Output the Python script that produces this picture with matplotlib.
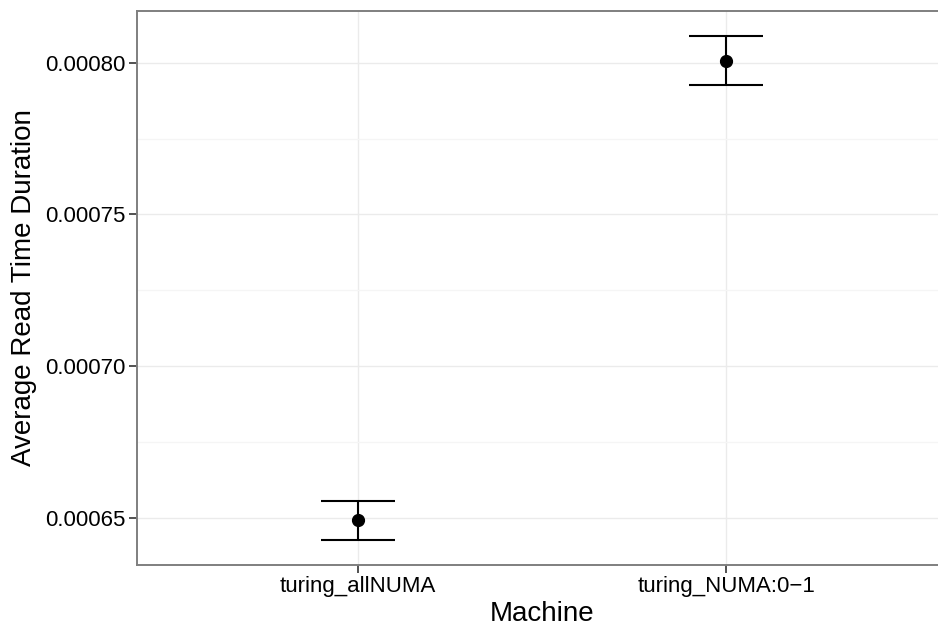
import matplotlib
matplotlib.use("Agg")
import matplotlib.pyplot as plt
import numpy as np

# -> data
machines = ["turing_allNUMA", "turing_NUMA:0\u22121"]
mean_read = [0.0006494, 0.0008005]
ci_low = [0.0006429, 0.0007926]
ci_high = [0.0006557, 0.0008087]

y_ticks = [0.00065, 0.00070, 0.00075, 0.00080]
y_tick_labels = ["0.00065", "0.00070", "0.00075", "0.00080"]

plt.rcParams['font.family'] = ['Liberation Sans', 'DejaVu Sans']

fig = plt.figure(figsize=(9.38, 6.28), dpi=100)
# panel is cut off on the right side in the original
ax = fig.add_axes([137 / 938, 63 / 628, 810 / 938, 554 / 628])

x = np.arange(1, len(machines) + 1)
mean_read = np.array(mean_read)
lo = mean_read - np.array(ci_low)
hi = np.array(ci_high) - mean_read

ax.errorbar(x, mean_read, yerr=[lo, hi], fmt='none', ecolor='black',
            elinewidth=1.5, capsize=0, zorder=3)
# caps drawn as horizontal segments, width 0.2 like geom_errorbar
ax.hlines(ci_low, x - 0.1, x + 0.1, colors='black', linewidth=1.5, zorder=3)
ax.hlines(ci_high, x - 0.1, x + 0.1, colors='black', linewidth=1.5, zorder=3)
ax.plot(x, mean_read, 'o', color='black', markersize=8.5, zorder=4)

# ggplot-ish 5% expansion
rng = max(ci_high) - min(ci_low)
ax.set_ylim(min(ci_low) - 0.05 * rng, max(ci_high) + 0.05 * rng)
ax.set_xlim(0.4, 2.6)

ax.set_yticks(y_ticks)
ax.set_yticklabels(y_tick_labels)
ax.set_yticks([0.000675, 0.000725, 0.000775], minor=True)
ax.set_xticks(x)
ax.set_xticklabels(machines)

ax.grid(True, which='major', color='#ebebeb', linewidth=1.0, zorder=0)
ax.grid(True, which='minor', axis='y', color='#f5f5f5', linewidth=1.0, zorder=0)
ax.set_axisbelow(True)

for s in ax.spines.values():
    s.set_color('#7f7f7f')
    s.set_linewidth(1.4)

ax.tick_params(axis='both', which='major', length=6, width=1.2, color='#333333',
               labelsize=16, labelcolor='black', pad=2)
ax.tick_params(axis='y', which='minor', length=0)

ax.set_xlabel("Machine", fontsize=20, labelpad=3)
ax.set_ylabel("Average Read Time Duration", fontsize=20, labelpad=6)

fig.savefig("out.png", dpi=100)
